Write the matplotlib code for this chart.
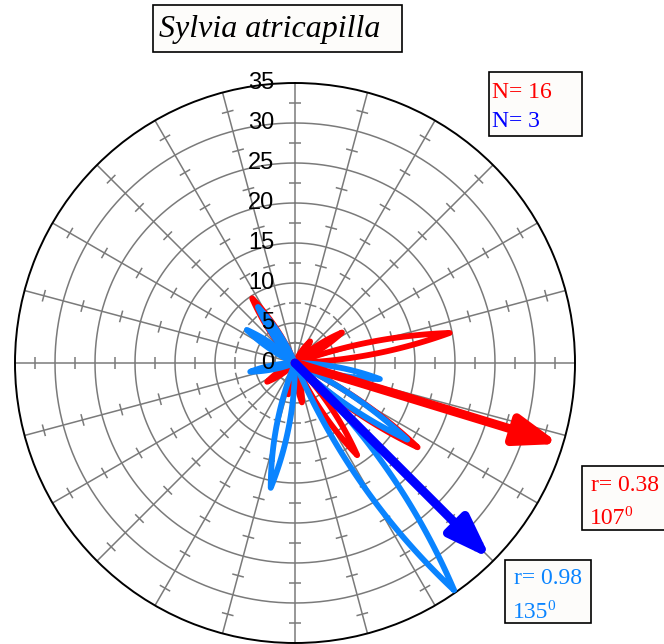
"""Circular rose diagram, Sylvia atricapilla orientation."""

import matplotlib
matplotlib.use("Agg")
import matplotlib.pyplot as plt
import matplotlib.transforms as mtransforms
from matplotlib.collections import LineCollection
from matplotlib.patches import Rectangle
import numpy as np

RED = "#ff0000"
LIGHT_BLUE = "#0a84ff"
DARK_BLUE = "#0000ff"

SPECIES = "Sylvia atricapilla"
N_RED = 16
N_BLUE = 3

# petals: direction (deg), length, spread (deg)
red_dirs = [326.5, 79, 57, 35, 124.5, 146, 170, 192, 236]
red_lens = [9.7, 19.7, 7.0, 3.3, 18.6, 13.9, 5.0, 4.0, 4.2]
red_spread = [10, 9, 10, 12, 9, 10, 10, 10, 12]

blue_dirs = [326.5, 304.5, 259, 191, 145, 124.3, 100.7]
blue_lens = [8.4, 7.3, 5.7, 15.9, 34.7, 17.0, 10.8]
blue_spread = [10, 10, 10, 11, 12, 9, 10]

# mean vectors
red_mean_dir, red_r = 107, 0.38
blue_mean_dir, blue_r = 135, 0.98
arrow_len = 34.6

r_ticks = [0, 5, 10, 15, 20, 25, 30, 35]
r_max = 35

plt.rcParams["font.family"] = ["Liberation Sans", "DejaVu Sans"]

fig = plt.figure(figsize=(6.64, 6.44), dpi=100)
ax = fig.add_axes([15 / 664, 1 / 644, 560 / 664, 560 / 644], projection="polar")
ax.set_theta_zero_location("N")
ax.set_theta_direction(-1)
ax.set_ylim(0, r_max)
ax.set_xticks([])
ax.set_yticks([])
ax.grid(False)
ax.spines["polar"].set_color("black")
ax.spines["polar"].set_linewidth(1.4)

grey = "#7a7a7a"
full = np.linspace(0, 2 * np.pi, 361)
for rr in r_ticks[1:-1]:
    ax.plot(full, np.full_like(full, rr), color=grey, lw=1.1, zorder=1)

spokes = np.deg2rad(np.arange(0, 360, 15))
for t in spokes:
    ax.plot([t, t], [0, r_max], color=grey, lw=1.1, zorder=1)

# small cross ticks half way between circles
half = 0.75
segs = []
for t in spokes:
    for m in np.arange(2.5, r_max, 5):
        rr = np.hypot(m, half)
        dt = np.arctan2(half, m)
        segs.append([(t - dt, rr), (t + dt, rr)])
ax.add_collection(LineCollection(segs, colors=grey, linewidths=1.1, zorder=1))

# radial labels along north spoke
lab_tr = mtransforms.offset_copy(ax.transData, fig=fig, x=-21, y=0, units="dots")
for v in r_ticks:
    ax.text(0, v, str(v), transform=lab_tr, ha="right", va="center",
            fontsize=17, color="black", zorder=5)


def petal(d, L, w):
    dl = np.linspace(-w, w, 121)
    r = L * (1 - np.abs(dl) / w)
    return np.deg2rad(d + dl), r


for d, L, w in zip(red_dirs, red_lens, red_spread):
    th, r = petal(d, L, w)
    ax.plot(th, r, color=RED, lw=4.2, solid_joinstyle="round", zorder=3)

for d, L, w in zip(blue_dirs, blue_lens, blue_spread):
    th, r = petal(d, L, w)
    ax.plot(th, r, color=LIGHT_BLUE, lw=4.2, solid_joinstyle="round", zorder=4)

for d, col in [(red_mean_dir, RED), (blue_mean_dir, DARK_BLUE)]:
    ax.annotate("", xy=(np.deg2rad(d), arrow_len), xytext=(0, 0),
                arrowprops=dict(arrowstyle="-|>,head_length=1.7,head_width=0.6",
                                mutation_scale=15, lw=6.4, color=col,
                                shrinkA=0, shrinkB=0),
                zorder=6)

# overlay in pixel coordinates for the boxes
ov = fig.add_axes([0, 0, 1, 1])
ov.set_xlim(0, 664)
ov.set_ylim(644, 0)
ov.axis("off")

serif = ["Liberation Serif", "DejaVu Serif"]
box_kw = dict(facecolor="#fdfcfa", edgecolor="black", lw=1.2, zorder=10)

ov.add_patch(Rectangle((153, 5), 249, 47, **box_kw))
ov.text(159, 29, SPECIES, family=serif, style="italic", fontsize=23,
        ha="left", va="center", zorder=11)

ov.add_patch(Rectangle((489, 72), 93, 64, **box_kw))
ov.text(492, 92, f"N= {N_RED}", family=serif, fontsize=17, color=RED,
        ha="left", va="center", zorder=11)
ov.text(492, 121, f"N= {N_BLUE}", family=serif, fontsize=17, color=DARK_BLUE,
        ha="left", va="center", zorder=11)


def stat_box(x0, y0, w, h, r, d, col):
    ov.add_patch(Rectangle((x0, y0), w, h, **box_kw))
    ov.text(x0 + 9, y0 + 19, f"r= {r:.2f}", family=serif, fontsize=17,
            color=col, ha="left", va="center", zorder=11)
    t = ov.text(x0 + 8, y0 + 52, f"{d}", family=serif, fontsize=17,
                color=col, ha="left", va="center", zorder=11)
    ov.annotate("0", xy=(1, 0.75), xycoords=t, xytext=(-1, 0),
                textcoords="offset points", family=serif, fontsize=11,
                color=col, ha="left", va="center", zorder=11)


stat_box(582, 466, 90, 64, red_r, red_mean_dir, RED)
stat_box(505, 560, 86, 63, blue_r, blue_mean_dir, LIGHT_BLUE)

fig.savefig("out.png", dpi=100)
